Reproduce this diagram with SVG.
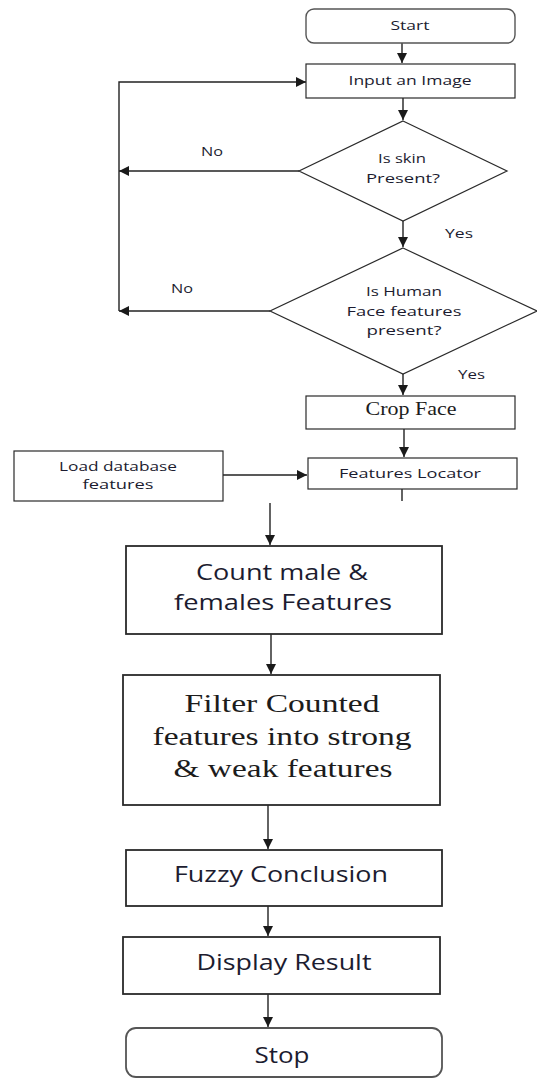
<svg xmlns="http://www.w3.org/2000/svg" width="537" height="1080" viewBox="0 0 537 1080">
<defs>
<marker id="arr" markerUnits="userSpaceOnUse" markerWidth="10" markerHeight="10" refX="10" refY="5" orient="auto">
<path d="M0,0 L10,5 L0,10 z" fill="#1a1a1a"/>
</marker>
<style>
.box{fill:#fff;stroke:#2a2a2a;stroke-width:1.2}
.bbox{fill:#fff;stroke:#2a2a2a;stroke-width:1.8}
.rbox{fill:#fff;stroke:#555;stroke-width:1.4}
.con{fill:none;stroke:#222;stroke-width:1.4}
.s{font-family:"Open Sans","Liberation Sans",sans-serif;fill:#1c1c30;text-anchor:middle}
.sm{font-size:12.5px}
.md{font-size:21px}
.sf{font-family:"Liberation Serif","Times New Roman",serif;fill:#1c1c1c;text-anchor:middle}
.lbl{font-family:"Open Sans","Liberation Sans",sans-serif;fill:#1c1c30;font-size:12.5px}
</style>
</defs>
<rect width="537" height="1080" fill="#fff"/>
<g id="connectors">
<path class="con" d="M402,43 V63" marker-end="url(#arr)"/>
<path class="con" d="M403,98 V120" marker-end="url(#arr)"/>
<path class="con" d="M299,171 H119" marker-end="url(#arr)"/>
<path class="con" d="M403,221 V247" marker-end="url(#arr)"/>
<path class="con" d="M270,311 H119" marker-end="url(#arr)"/>
<path class="con" d="M119,311 V82 H306" marker-end="url(#arr)"/>
<path class="con" d="M403,374 V395" marker-end="url(#arr)"/>
<path class="con" d="M404,429 V457" marker-end="url(#arr)"/>
<path class="con" d="M223,475 H307" marker-end="url(#arr)"/>
<path class="con" d="M402,489 V501"/>
<path class="con" d="M270,503 V545" marker-end="url(#arr)"/>
<path class="con" d="M271,634 V674" marker-end="url(#arr)"/>
<path class="con" d="M268,805 V849" marker-end="url(#arr)"/>
<path class="con" d="M268,906 V936" marker-end="url(#arr)"/>
<path class="con" d="M268,994 V1027" marker-end="url(#arr)"/>
<text class="lbl" x="201" y="156" textLength="22" lengthAdjust="spacingAndGlyphs">No</text>
<text class="lbl" x="445" y="238" textLength="28" lengthAdjust="spacingAndGlyphs">Yes</text>
<text class="lbl" x="171" y="293" textLength="22" lengthAdjust="spacingAndGlyphs">No</text>
<text class="lbl" x="458" y="379" textLength="27" lengthAdjust="spacingAndGlyphs">Yes</text>
</g>
<g id="start">
<rect class="rbox" x="306" y="9" width="209" height="34" rx="8"/>
<text class="s sm" x="410" y="30" textLength="39" lengthAdjust="spacingAndGlyphs">Start</text>
</g>
<g id="input">
<rect class="box" x="306" y="64" width="209" height="34"/>
<text class="s sm" x="410" y="85" textLength="123" lengthAdjust="spacingAndGlyphs">Input an Image</text>
</g>
<g id="skin">
<polygon class="box" points="403,121 507,171 403,221 299,171"/>
<text class="s sm" x="402" y="163" textLength="48" lengthAdjust="spacingAndGlyphs">Is skin</text>
<text class="s sm" x="403" y="183" textLength="74" lengthAdjust="spacingAndGlyphs">Present?</text>
</g>
<g id="face">
<polygon class="box" points="403,248 537,311 403,374 270,311"/>
<text class="s sm" x="404" y="296" textLength="76" lengthAdjust="spacingAndGlyphs">Is Human</text>
<text class="s sm" x="404" y="316" textLength="115" lengthAdjust="spacingAndGlyphs">Face features</text>
<text class="s sm" x="404" y="335" textLength="75" lengthAdjust="spacingAndGlyphs">present?</text>
</g>
<g id="crop">
<rect class="box" x="306" y="396" width="209" height="33"/>
<text class="sf" x="411" y="415" font-size="18" textLength="91" lengthAdjust="spacingAndGlyphs">Crop Face</text>
</g>
<g id="locator">
<rect class="box" x="308" y="458" width="209" height="31"/>
<text class="s sm" x="410" y="478" textLength="142" lengthAdjust="spacingAndGlyphs">Features Locator</text>
</g>
<g id="load">
<rect class="box" x="14" y="451" width="209" height="50"/>
<text class="s sm" x="118" y="471" textLength="118" lengthAdjust="spacingAndGlyphs">Load database</text>
<text class="s sm" x="118" y="489" textLength="71" lengthAdjust="spacingAndGlyphs">features</text>
</g>
<g id="count">
<rect class="bbox" x="126" y="546" width="316" height="88"/>
<text class="s md" x="282" y="580" textLength="172" lengthAdjust="spacingAndGlyphs">Count male &amp;</text>
<text class="s md" x="283" y="610" textLength="218" lengthAdjust="spacingAndGlyphs">females Features</text>
</g>
<g id="filter">
<rect class="bbox" x="123" y="675" width="317" height="130"/>
<text class="sf" x="282" y="712" font-size="26" textLength="195" lengthAdjust="spacingAndGlyphs">Filter Counted</text>
<text class="sf" x="282" y="745" font-size="26" textLength="259" lengthAdjust="spacingAndGlyphs">features into strong</text>
<text class="sf" x="283" y="777" font-size="26" textLength="219" lengthAdjust="spacingAndGlyphs">&amp; weak features</text>
</g>
<g id="fuzzy">
<rect class="bbox" x="126" y="850" width="316" height="56"/>
<text class="s md" x="281" y="882" textLength="214" lengthAdjust="spacingAndGlyphs">Fuzzy Conclusion</text>
</g>
<g id="display">
<rect class="bbox" x="123" y="937" width="317" height="57"/>
<text class="s md" x="284" y="970" textLength="175" lengthAdjust="spacingAndGlyphs">Display Result</text>
</g>
<g id="stop">
<rect class="rbox" x="126" y="1028" width="316" height="49" rx="10" style="stroke-width:1.8"/>
<text class="s md" x="282" y="1063" textLength="55" lengthAdjust="spacingAndGlyphs">Stop</text>
</g>
</svg>
